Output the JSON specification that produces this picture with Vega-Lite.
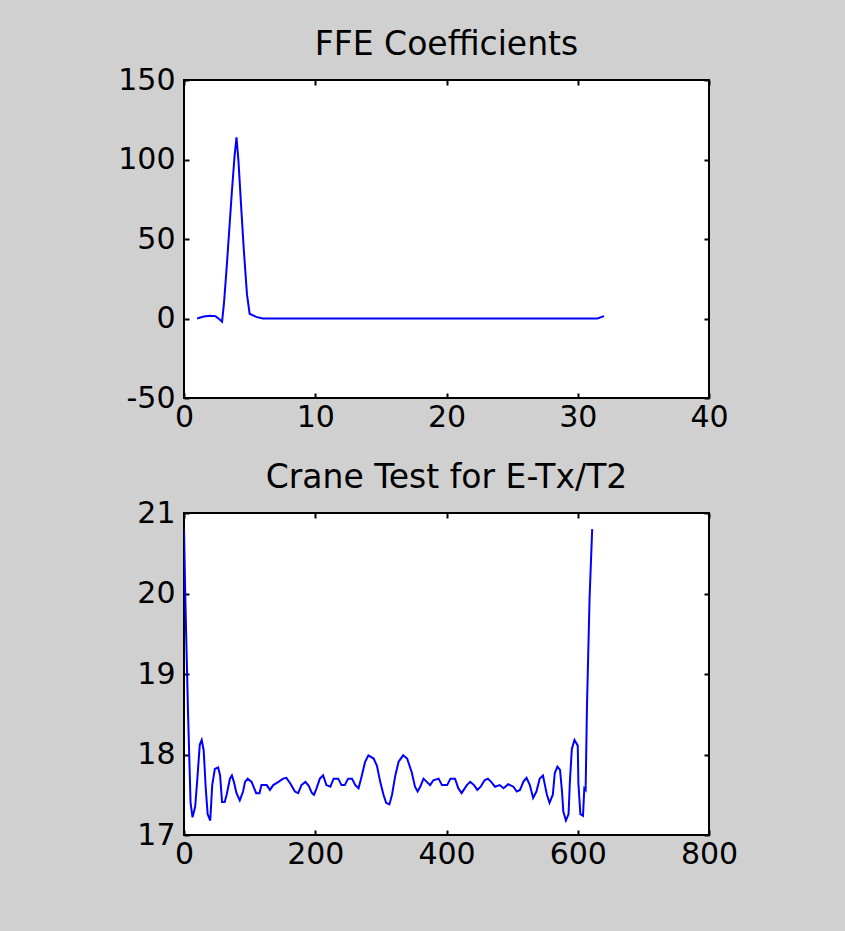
{
  "$schema": "https://vega.github.io/schema/vega-lite/v6.json",
  "background": "#d0d0d0",
  "padding": {"left": 116, "top": 28, "right": 106, "bottom": 63},
  "config": {
    "view": {"stroke": "#000000", "strokeWidth": 2, "fill": "#ffffff"},
    "font": "DejaVu Sans",
    "title": {"font": "DejaVu Sans", "fontSize": 33, "fontWeight": "normal", "color": "#000000", "anchor": "middle", "frame": "group", "offset": 3},
    "axis": {
      "labelFont": "DejaVu Sans", "labelFontSize": 30, "labelColor": "#000000",
      "tickColor": "#000000", "tickWidth": 2, "tickSize": -5,
      "domain": false, "grid": false, "labelFlush": false, "labelOverlap": false,
      "title": null, "labelExpr": "'' + datum.value"
    },
    "axisX": {"labelPadding": 9},
    "axisY": {"labelPadding": 14}
  },
  "datasets": {
    "ffe": [
      {"x": 1, "y": 0}, {"x": 1.5, "y": 1.2}, {"x": 2, "y": 1.7}, {"x": 2.4, "y": 1.5},
      {"x": 2.7, "y": -0.5}, {"x": 2.9, "y": -2}, {"x": 3.05, "y": 10}, {"x": 3.25, "y": 32},
      {"x": 3.45, "y": 56}, {"x": 3.65, "y": 80}, {"x": 3.85, "y": 102}, {"x": 4.0, "y": 114},
      {"x": 4.15, "y": 99}, {"x": 4.35, "y": 71}, {"x": 4.55, "y": 44}, {"x": 4.8, "y": 15},
      {"x": 5.0, "y": 3}, {"x": 5.5, "y": 1}, {"x": 6, "y": 0}, {"x": 10, "y": 0},
      {"x": 20, "y": 0}, {"x": 31.5, "y": 0}, {"x": 32, "y": 1.5}
    ],
    "crane": [
      {"x": 0, "y": 20.8}, {"x": 2, "y": 19.94}, {"x": 6, "y": 18.56}, {"x": 10, "y": 17.4},
      {"x": 13, "y": 17.22}, {"x": 17, "y": 17.35}, {"x": 20, "y": 17.66}, {"x": 24, "y": 18.12},
      {"x": 27, "y": 18.18}, {"x": 30, "y": 18.05}, {"x": 33, "y": 17.6}, {"x": 36, "y": 17.26},
      {"x": 40, "y": 17.18}, {"x": 43, "y": 17.62}, {"x": 47, "y": 17.82}, {"x": 52, "y": 17.84},
      {"x": 55, "y": 17.74}, {"x": 58, "y": 17.41}, {"x": 62, "y": 17.41}, {"x": 65, "y": 17.5},
      {"x": 70, "y": 17.7}, {"x": 73, "y": 17.74}, {"x": 76, "y": 17.66}, {"x": 80, "y": 17.52},
      {"x": 85, "y": 17.43}, {"x": 90, "y": 17.54}, {"x": 93, "y": 17.66}, {"x": 97, "y": 17.7},
      {"x": 103, "y": 17.66}, {"x": 107, "y": 17.58}, {"x": 110, "y": 17.52}, {"x": 115, "y": 17.52},
      {"x": 118, "y": 17.62}, {"x": 126, "y": 17.62}, {"x": 131, "y": 17.56}, {"x": 136, "y": 17.62},
      {"x": 144, "y": 17.66}, {"x": 151, "y": 17.7}, {"x": 156, "y": 17.71}, {"x": 162, "y": 17.64},
      {"x": 169, "y": 17.54}, {"x": 174, "y": 17.52}, {"x": 179, "y": 17.62}, {"x": 185, "y": 17.66},
      {"x": 190, "y": 17.61}, {"x": 195, "y": 17.52}, {"x": 198, "y": 17.5}, {"x": 202, "y": 17.58},
      {"x": 207, "y": 17.7}, {"x": 212, "y": 17.74}, {"x": 217, "y": 17.62}, {"x": 223, "y": 17.6},
      {"x": 228, "y": 17.7}, {"x": 235, "y": 17.7}, {"x": 240, "y": 17.62}, {"x": 245, "y": 17.62},
      {"x": 250, "y": 17.7}, {"x": 256, "y": 17.7}, {"x": 261, "y": 17.62}, {"x": 266, "y": 17.58},
      {"x": 271, "y": 17.74}, {"x": 276, "y": 17.91}, {"x": 281, "y": 17.99}, {"x": 289, "y": 17.95},
      {"x": 294, "y": 17.86}, {"x": 299, "y": 17.66}, {"x": 304, "y": 17.5}, {"x": 308, "y": 17.4},
      {"x": 313, "y": 17.38}, {"x": 317, "y": 17.5}, {"x": 322, "y": 17.74}, {"x": 327, "y": 17.91},
      {"x": 334, "y": 17.99}, {"x": 340, "y": 17.95}, {"x": 347, "y": 17.78}, {"x": 352, "y": 17.6},
      {"x": 356, "y": 17.54}, {"x": 360, "y": 17.6}, {"x": 365, "y": 17.7}, {"x": 370, "y": 17.66},
      {"x": 375, "y": 17.62}, {"x": 380, "y": 17.68}, {"x": 388, "y": 17.7}, {"x": 393, "y": 17.62},
      {"x": 401, "y": 17.62}, {"x": 406, "y": 17.7}, {"x": 413, "y": 17.7}, {"x": 418, "y": 17.58},
      {"x": 423, "y": 17.52}, {"x": 431, "y": 17.62}, {"x": 436, "y": 17.66}, {"x": 442, "y": 17.62},
      {"x": 447, "y": 17.56}, {"x": 452, "y": 17.6}, {"x": 458, "y": 17.68}, {"x": 463, "y": 17.7},
      {"x": 468, "y": 17.66}, {"x": 474, "y": 17.6}, {"x": 481, "y": 17.62}, {"x": 487, "y": 17.58},
      {"x": 494, "y": 17.63}, {"x": 502, "y": 17.6}, {"x": 507, "y": 17.54}, {"x": 512, "y": 17.56},
      {"x": 517, "y": 17.66}, {"x": 522, "y": 17.71}, {"x": 527, "y": 17.62}, {"x": 532, "y": 17.46},
      {"x": 537, "y": 17.54}, {"x": 542, "y": 17.7}, {"x": 547, "y": 17.74}, {"x": 550, "y": 17.62},
      {"x": 553, "y": 17.5}, {"x": 557, "y": 17.4}, {"x": 562, "y": 17.5}, {"x": 565, "y": 17.77},
      {"x": 569, "y": 17.85}, {"x": 573, "y": 17.81}, {"x": 576, "y": 17.54}, {"x": 578, "y": 17.29},
      {"x": 582, "y": 17.18}, {"x": 586, "y": 17.26}, {"x": 588, "y": 17.66}, {"x": 591, "y": 18.07},
      {"x": 595, "y": 18.18}, {"x": 600, "y": 18.11}, {"x": 601, "y": 17.64}, {"x": 604, "y": 17.26},
      {"x": 608, "y": 17.24}, {"x": 610, "y": 17.58}, {"x": 612, "y": 17.56}, {"x": 614, "y": 18.58},
      {"x": 618, "y": 19.94}, {"x": 622, "y": 20.8}
    ]
  },
  "vconcat": [
    {
      "title": "FFE Coefficients",
      "width": 525, "height": 318,
      "data": {"name": "ffe"},
      "layer": [
        {
          "mark": {"type": "line", "color": "#0000ff", "strokeWidth": 2, "clip": true},
          "encoding": {
            "x": {"field": "x", "type": "quantitative", "scale": {"domain": [0, 40], "nice": false, "zero": false},
                  "axis": {"orient": "bottom", "values": [0, 10, 20, 30, 40]}},
            "y": {"field": "y", "type": "quantitative", "scale": {"domain": [-50, 150], "nice": false, "zero": false},
                  "axis": {"orient": "left", "values": [-50, 0, 50, 100, 150]}}
          }
        },
        {
          "mark": {"type": "line", "opacity": 0},
          "encoding": {
            "x": {"field": "x", "type": "quantitative",
                  "axis": {"orient": "top", "values": [0, 10, 20, 30, 40], "labels": false}},
            "y": {"field": "y", "type": "quantitative",
                  "axis": {"orient": "right", "values": [-50, 0, 50, 100, 150], "labels": false}}
          }
        }
      ],
      "resolve": {"axis": {"x": "independent", "y": "independent"}}
    },
    {
      "title": "Crane Test for E-Tx/T2",
      "width": 525, "height": 322,
      "data": {"name": "crane"},
      "layer": [
        {
          "mark": {"type": "line", "color": "#0000ff", "strokeWidth": 2, "clip": true},
          "encoding": {
            "x": {"field": "x", "type": "quantitative", "scale": {"domain": [0, 800], "nice": false, "zero": false},
                  "axis": {"orient": "bottom", "values": [0, 200, 400, 600, 800]}},
            "y": {"field": "y", "type": "quantitative", "scale": {"domain": [17, 21], "nice": false, "zero": false},
                  "axis": {"orient": "left", "values": [17, 18, 19, 20, 21]}}
          }
        },
        {
          "mark": {"type": "line", "opacity": 0},
          "encoding": {
            "x": {"field": "x", "type": "quantitative",
                  "axis": {"orient": "top", "values": [0, 200, 400, 600, 800], "labels": false}},
            "y": {"field": "y", "type": "quantitative",
                  "axis": {"orient": "right", "values": [17, 18, 19, 20, 21], "labels": false}}
          }
        }
      ],
      "resolve": {"axis": {"x": "independent", "y": "independent"}}
    }
  ],
  "spacing": 28
}
